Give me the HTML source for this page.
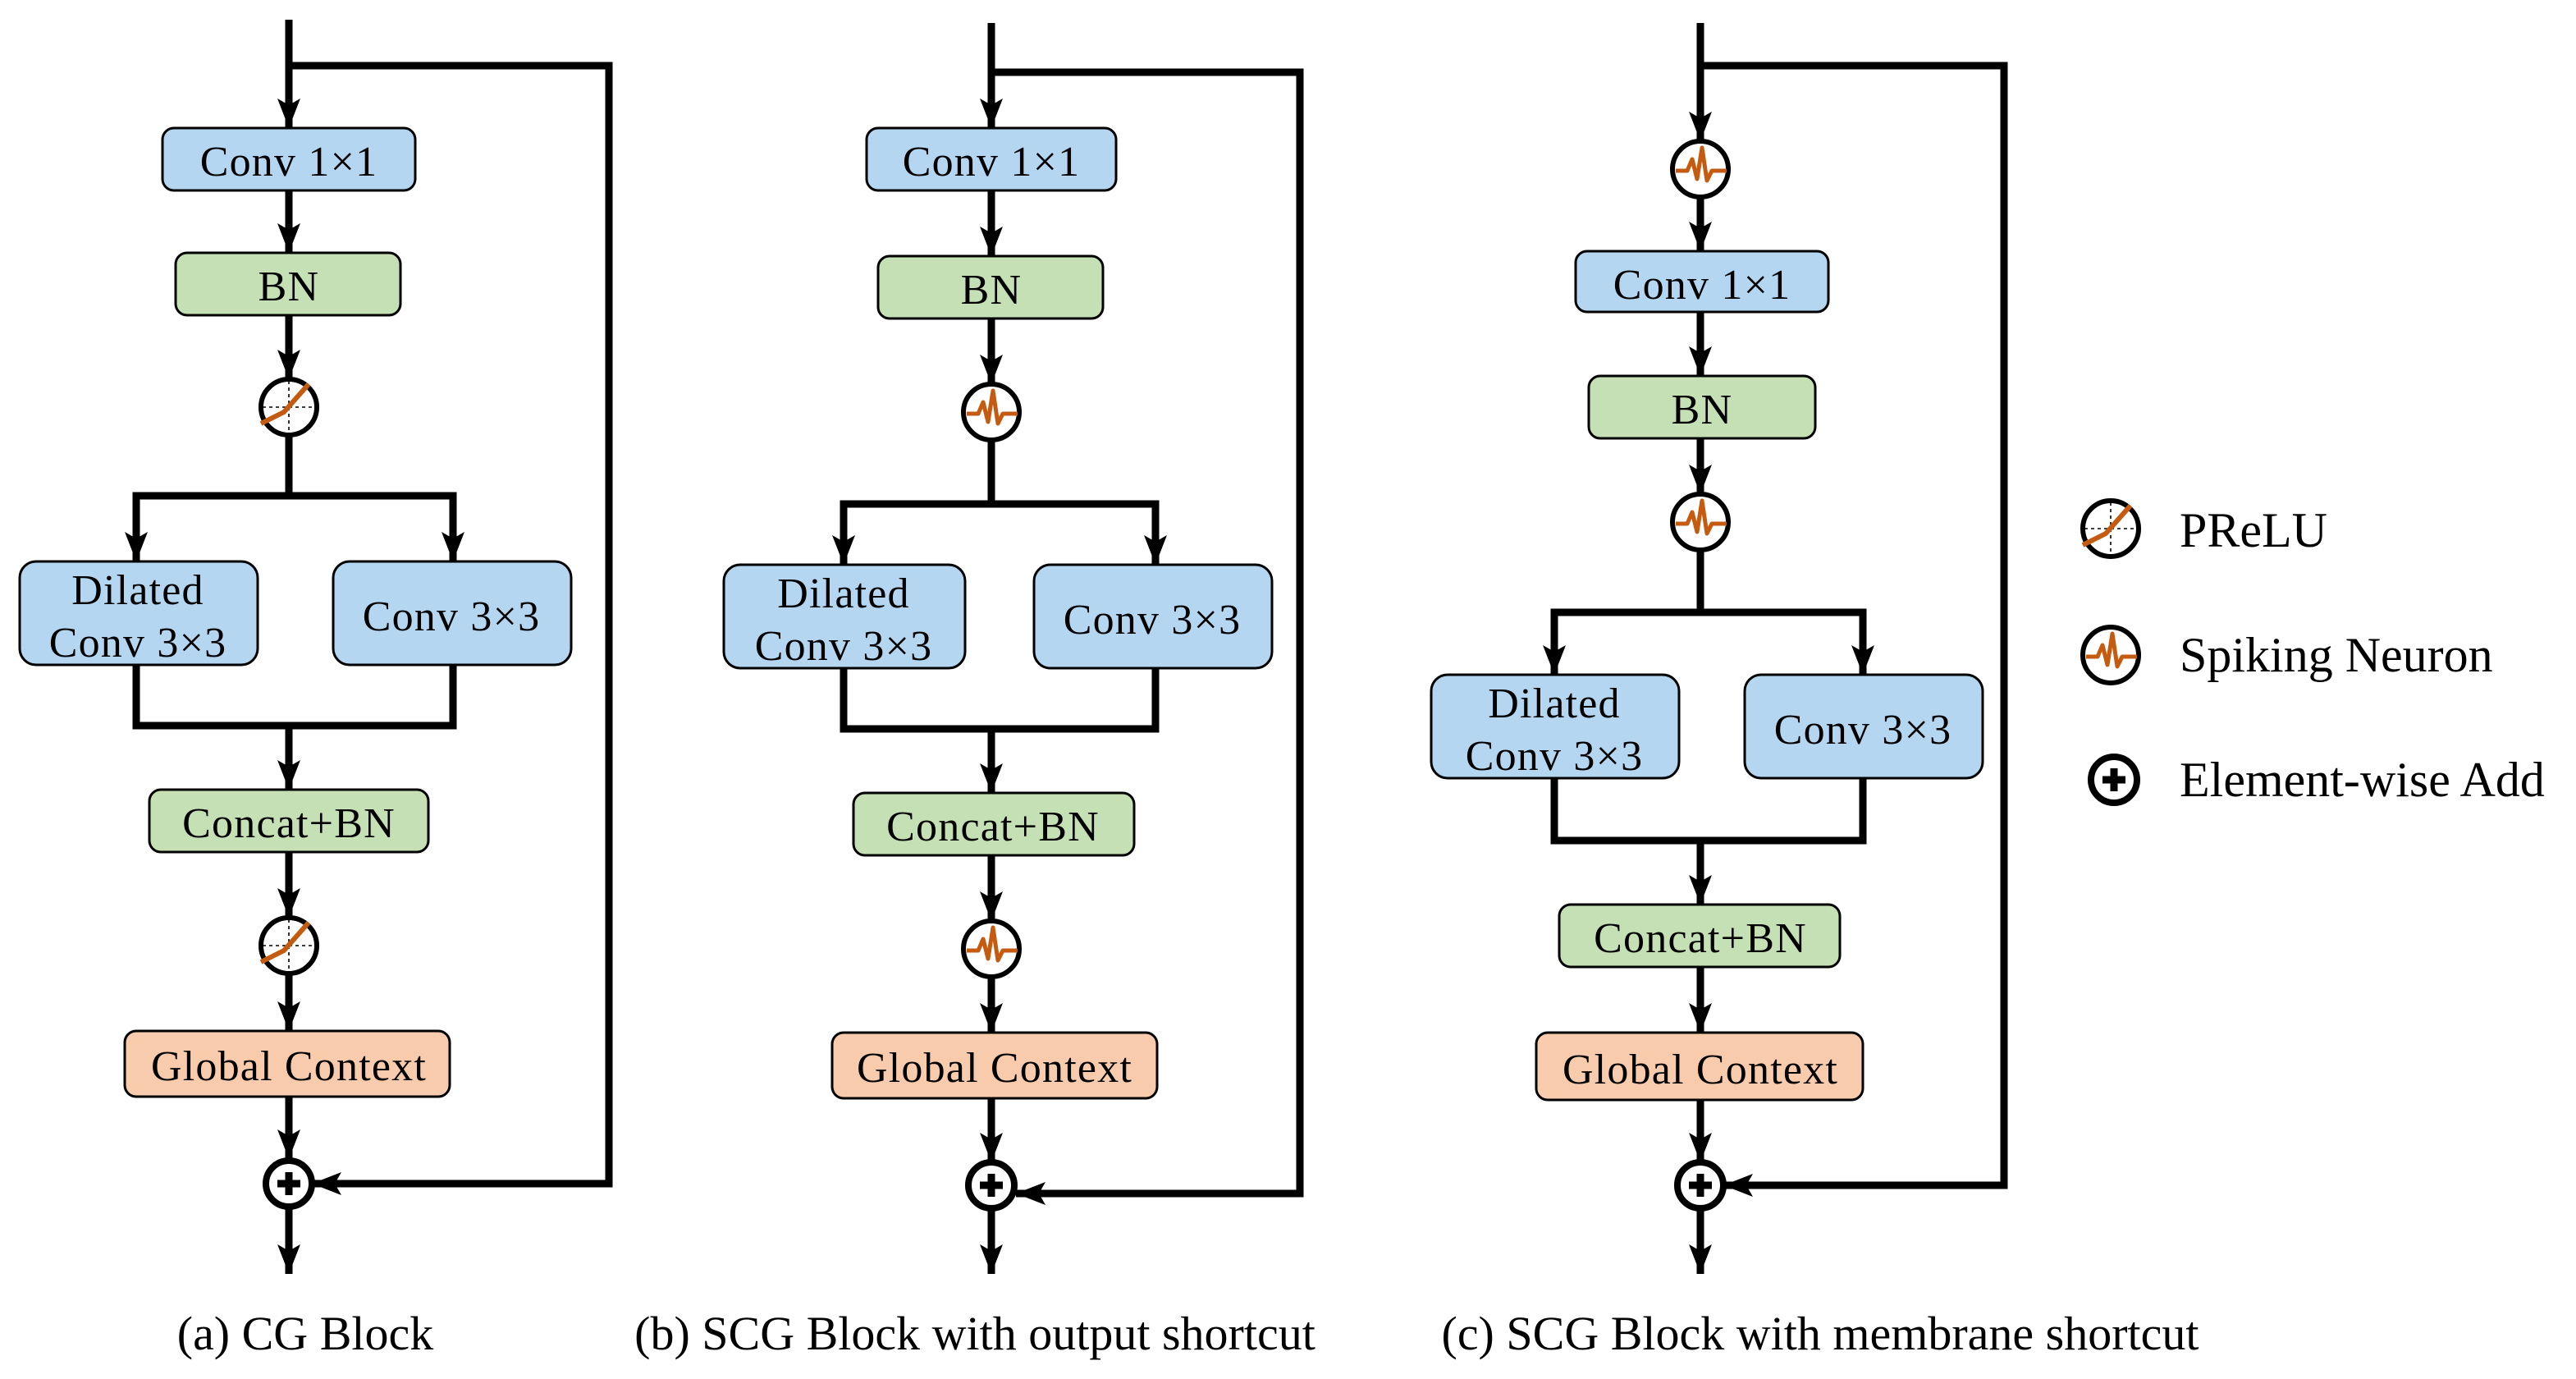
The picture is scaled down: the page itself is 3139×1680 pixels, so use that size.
<!DOCTYPE html>
<html><head><meta charset="utf-8"><style>
html,body{margin:0;padding:0;background:#fff;}
svg{display:block;}
</style></head><body>
<svg width="3139" height="1680" viewBox="0 0 1569.5 840" xmlns="http://www.w3.org/2000/svg" font-family="'Liberation Serif', 'Times New Roman', serif">
<defs>
<marker id="a" viewBox="0 0 18 14" refX="18" refY="7" markerWidth="18" markerHeight="14" markerUnits="userSpaceOnUse" orient="auto">
<path d="M0,0 L18,7 L0,14 L4,7 z" fill="#000"/>
</marker>
<g id="prelu">
<circle r="17" fill="#fff" stroke="#000" stroke-width="3"/>
<line x1="-16" y1="0" x2="16" y2="0" stroke="#000" stroke-width="0.8" stroke-dasharray="2,2"/>
<line x1="0" y1="-16" x2="0" y2="16" stroke="#000" stroke-width="0.8" stroke-dasharray="2,2"/>
<polyline points="-17,10 -3,3 12,-14" fill="none" stroke="#c55a11" stroke-width="3"/>
</g>
<g id="spike">
<circle r="17" fill="#fff" stroke="#000" stroke-width="3"/>
<polyline points="-15,1 -8,1 -5,-6 -2,6 1,-13 4,7 7,1 16,1" fill="none" stroke="#c55a11" stroke-width="2.5" stroke-linejoin="round"/>
</g>
<g id="plus">
<circle r="14" fill="#fff" stroke="#000" stroke-width="4"/>
<line x1="-7" y1="0" x2="7" y2="0" stroke="#000" stroke-width="4.5"/>
<line x1="0" y1="-7" x2="0" y2="7" stroke="#000" stroke-width="4.5"/>
</g>
</defs>
<g fill="none" stroke="#000" stroke-width="4.5">
<line x1="176" y1="12" x2="176" y2="78" marker-end="url(#a)"/>
<polyline points="176,40 371,40 371,721 190,721" marker-end="url(#a)"/>
<line x1="176" y1="116" x2="176" y2="154" marker-end="url(#a)"/>
<line x1="176" y1="192" x2="176" y2="231" marker-end="url(#a)"/>
<line x1="176" y1="265" x2="176" y2="302"/>
<polyline points="83,342 83,302 276,302 276,342"/>
<line x1="83" y1="320" x2="83" y2="342" marker-end="url(#a)"/>
<line x1="276" y1="320" x2="276" y2="342" marker-end="url(#a)"/>
<polyline points="83,405 83,442 276,442 276,405"/>
<line x1="176" y1="442" x2="176" y2="481" marker-end="url(#a)"/>
<line x1="176" y1="519" x2="176" y2="559" marker-end="url(#a)"/>
<line x1="176" y1="593" x2="176" y2="628" marker-end="url(#a)"/>
<line x1="176" y1="668" x2="176" y2="706" marker-end="url(#a)"/>
<line x1="176" y1="735" x2="176" y2="776" marker-end="url(#a)"/>
<line x1="604" y1="14" x2="604" y2="78" marker-end="url(#a)"/>
<polyline points="604,44 792,44 792,727 619,727" marker-end="url(#a)"/>
<line x1="604" y1="116" x2="604" y2="156" marker-end="url(#a)"/>
<line x1="604" y1="194" x2="604" y2="234" marker-end="url(#a)"/>
<line x1="604" y1="268" x2="604" y2="307"/>
<polyline points="514,344 514,307 704,307 704,344"/>
<line x1="514" y1="325" x2="514" y2="344" marker-end="url(#a)"/>
<line x1="704" y1="325" x2="704" y2="344" marker-end="url(#a)"/>
<polyline points="514,407 514,444 704,444 704,407"/>
<line x1="604" y1="444" x2="604" y2="483" marker-end="url(#a)"/>
<line x1="604" y1="521" x2="604" y2="561" marker-end="url(#a)"/>
<line x1="604" y1="595" x2="604" y2="629" marker-end="url(#a)"/>
<line x1="604" y1="669" x2="604" y2="708" marker-end="url(#a)"/>
<line x1="604" y1="736" x2="604" y2="776" marker-end="url(#a)"/>
<line x1="1036" y1="14" x2="1036" y2="86" marker-end="url(#a)"/>
<polyline points="1036,40 1221,40 1221,722 1050,722" marker-end="url(#a)"/>
<line x1="1036" y1="120" x2="1036" y2="153" marker-end="url(#a)"/>
<line x1="1036" y1="190" x2="1036" y2="229" marker-end="url(#a)"/>
<line x1="1036" y1="267" x2="1036" y2="301" marker-end="url(#a)"/>
<line x1="1036" y1="335" x2="1036" y2="373"/>
<polyline points="947,411 947,373 1135,373 1135,411"/>
<line x1="947" y1="390" x2="947" y2="411" marker-end="url(#a)"/>
<line x1="1135" y1="390" x2="1135" y2="411" marker-end="url(#a)"/>
<polyline points="947,474 947,512 1135,512 1135,474"/>
<line x1="1036" y1="512" x2="1036" y2="551" marker-end="url(#a)"/>
<line x1="1036" y1="589" x2="1036" y2="629" marker-end="url(#a)"/>
<line x1="1036" y1="670" x2="1036" y2="708" marker-end="url(#a)"/>
<line x1="1036" y1="736" x2="1036" y2="776" marker-end="url(#a)"/>
</g>
<g stroke="#000" stroke-width="1.5">
<rect x="99" y="78" width="154" height="38" rx="7" fill="#b4d6f1"/>
<rect x="107" y="154" width="137" height="38" rx="7" fill="#c6e0b5"/>
<rect x="12" y="342" width="145" height="63" rx="10" fill="#b4d6f1"/>
<rect x="203" y="342" width="145" height="63" rx="10" fill="#b4d6f1"/>
<rect x="91" y="481" width="170" height="38" rx="7" fill="#c6e0b5"/>
<rect x="76" y="628" width="198" height="40" rx="7" fill="#f8cbad"/>
<rect x="528" y="78" width="152" height="38" rx="7" fill="#b4d6f1"/>
<rect x="535" y="156" width="137" height="38" rx="7" fill="#c6e0b5"/>
<rect x="441" y="344" width="147" height="63" rx="10" fill="#b4d6f1"/>
<rect x="630" y="344" width="145" height="63" rx="10" fill="#b4d6f1"/>
<rect x="520" y="483" width="171" height="38" rx="7" fill="#c6e0b5"/>
<rect x="507" y="629" width="198" height="40" rx="7" fill="#f8cbad"/>
<rect x="960" y="153" width="154" height="37" rx="7" fill="#b4d6f1"/>
<rect x="968" y="229" width="138" height="38" rx="7" fill="#c6e0b5"/>
<rect x="872" y="411" width="151" height="63" rx="10" fill="#b4d6f1"/>
<rect x="1063" y="411" width="145" height="63" rx="10" fill="#b4d6f1"/>
<rect x="950" y="551" width="171" height="38" rx="7" fill="#c6e0b5"/>
<rect x="936" y="629" width="199" height="41" rx="7" fill="#f8cbad"/>
</g>
<use href="#prelu" x="176" y="248"/>
<use href="#prelu" x="176" y="576"/>
<use href="#plus" x="176" y="721"/>
<use href="#spike" x="604" y="251"/>
<use href="#spike" x="604" y="578"/>
<use href="#plus" x="604" y="722"/>
<use href="#spike" x="1036" y="103"/>
<use href="#spike" x="1036" y="318"/>
<use href="#plus" x="1036" y="722"/>
<use href="#prelu" x="1286" y="322"/>
<use href="#spike" x="1286" y="399"/>
<use href="#plus" x="1288" y="475"/>
<g font-size="26" text-anchor="middle" letter-spacing="0.6" fill="#000">
<text x="176" y="107">Conv 1×1</text>
<text x="176" y="183">BN</text>
<text x="84" y="368">Dilated</text>
<text x="84" y="400">Conv 3×3</text>
<text x="275" y="384">Conv 3×3</text>
<text x="176" y="510">Concat+BN</text>
<text x="176" y="658">Global Context</text>
<text x="604" y="107">Conv 1×1</text>
<text x="604" y="185">BN</text>
<text x="514" y="370">Dilated</text>
<text x="514" y="402">Conv 3×3</text>
<text x="702" y="386">Conv 3×3</text>
<text x="605" y="512">Concat+BN</text>
<text x="606" y="659">Global Context</text>
<text x="1037" y="182">Conv 1×1</text>
<text x="1037" y="258">BN</text>
<text x="947" y="437">Dilated</text>
<text x="947" y="469">Conv 3×3</text>
<text x="1135" y="453">Conv 3×3</text>
<text x="1036" y="580">Concat+BN</text>
<text x="1036" y="660">Global Context</text>
</g>
<g font-size="30" fill="#000">
<text x="1328" y="333">PReLU</text>
<text x="1328" y="409">Spiking Neuron</text>
<text x="1328" y="485">Element-wise Add</text>
</g>
<g font-size="29" text-anchor="middle" fill="#000">
<text x="186" y="822">(a) CG Block</text>
<text x="594" y="822">(b) SCG Block with output shortcut</text>
<text x="1109" y="822">(c) SCG Block with membrane shortcut</text>
</g>
</svg>
</body></html>
